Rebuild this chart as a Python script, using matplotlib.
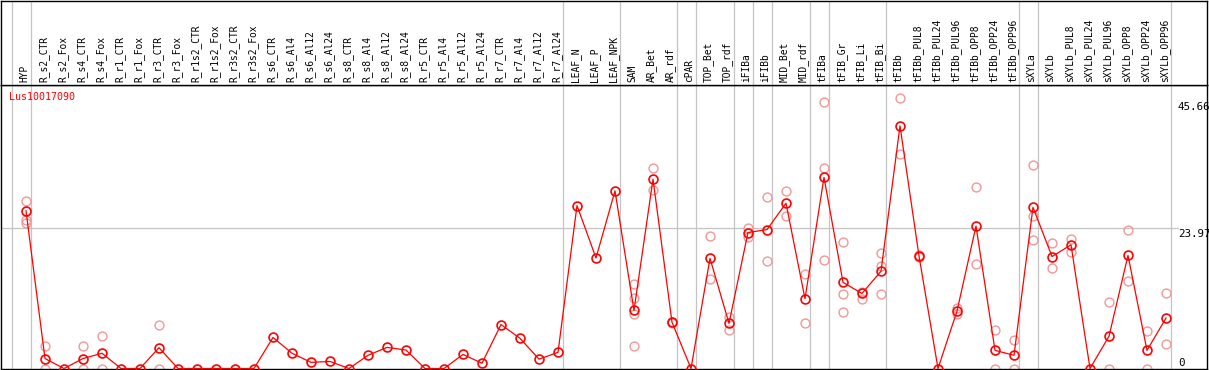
import matplotlib
matplotlib.use("Agg")
import matplotlib.pyplot as plt
import matplotlib.transforms as mtransforms

categories = ["HYP", "R_s2_CTR", "R_s2_Fox", "R_s4_CTR", "R_s4_Fox", "R_r1_CTR", "R_r1_Fox",
              "R_r3_CTR", "R_r3_Fox", "R_r1s2_CTR", "R_r1s2_Fox", "R_r3s2_CTR", "R_r3s2_Fox",
              "R_s6_CTR", "R_s6_Al4", "R_s6_Al12", "R_s6_Al24", "R_s8_CTR", "R_s8_Al4",
              "R_s8_Al12", "R_s8_Al24", "R_r5_CTR", "R_r5_Al4", "R_r5_Al12", "R_r5_Al24",
              "R_r7_CTR", "R_r7_Al4", "R_r7_Al12", "R_r7_Al24", "LEAF_N", "LEAF_P", "LEAF_NPK",
              "SAM", "AR_Bet", "AR_rdf", "cPAR", "TOP_Bet", "TOP_rdf", "iFIBa", "iFIBb",
              "MID_Bet", "MID_rdf", "tFIBa", "tFIB_Gr", "tFIB_Li", "tFIB_Bi", "tFIBb",
              "tFIBb_PUL8", "tFIBb_PUL24", "tFIBb_PUL96", "tFIBb_OPP8", "tFIBb_OPP24",
              "tFIBb_OPP96", "sXYLa", "sXYLb", "sXYLb_PUL8", "sXYLb_PUL24", "sXYLb_PUL96",
              "sXYLb_OPP8", "sXYLb_OPP24", "sXYLb_OPP96"]

means = [26.9, 1.7, 0.0, 1.7, 2.6, 0.0, 0.0, 3.55, 0.0, 0.0, 0.0, 0.0, 0.0,
         5.3, 2.6, 1.05, 1.2, 0.0, 2.25, 3.6, 3.15, 0.0, 0.0, 2.4, 0.9,
         7.5, 5.15, 1.6, 2.75, 27.8, 18.85, 30.3,
         9.9, 32.3, 7.9, 0.0, 18.8, 7.7, 23.2, 23.7,
         28.2, 11.9, 32.6, 14.7, 12.8, 16.6, 41.4,
         19.2, 0.0, 9.8, 24.3, 3.1, 2.25,
         27.5, 19.1, 21.1, 0.0, 5.5, 19.3, 3.1, 8.6]

replicates = [[28.6, 25.3, 24.9], [3.8, 0.0], [], [3.8, 0.0], [5.5, 0.0], [], [],
              [7.4, 0.0], [], [], [], [], [],
              [], [], [], [], [], [], [], [], [], [], [], [],
              [], [], [], [], [], [], [],
              [14.4, 12.0, 9.3, 3.8], [34.2, 30.4], [8.0, 7.8], [], [22.6, 15.2], [8.8, 6.5],
              [23.9, 22.5], [29.2, 18.3],
              [30.2, 26.1], [16.1, 7.7], [45.4, 34.2, 18.5], [21.6, 12.7, 9.6], [13.1, 11.9],
              [19.65, 17.5, 12.7], [46.1, 36.6],
              [19.4, 19.0], [], [10.3, 9.25], [30.9, 17.8], [6.6, 0.0], [4.9, 0.0],
              [34.7, 26.0, 21.9], [21.4, 17.1], [22.1, 19.9], [], [11.3, 0.0],
              [23.7, 15.0], [6.4, 0.0], [12.8, 4.1]]

group_ends = [-1, 0, 28, 31, 34, 35, 37, 38, 39, 41, 42, 45, 52, 53, 60]
gene = "Lus10017090"
y_marks = [45.66, 23.97, 0]
y_mark_labels = ["45.66", "23.97", "0"]

W, H = 1209, 370
fig = plt.figure(figsize=(W / 100, H / 100), dpi=100)
mono = "DejaVu Sans Mono"

# pixel geometry helpers
px_per_cat = 19.0
x0_px = 26.0
def px2x(p):
    return (p - x0_px) / px_per_cat

zero_px = 368.5
px_per_unit = (368.5 - 228.0) / 23.97
def py2v(p):
    return (zero_px - p) / px_per_unit

ax_left, ax_right = 1, 1207
ax_top, ax_bottom = 85, 369
ax = fig.add_axes([ax_left / W, (H - ax_bottom) / H, (ax_right - ax_left) / W, (ax_bottom - ax_top) / H])
hx = fig.add_axes([ax_left / W, (H - ax_top) / H, (ax_right - ax_left) / W, (ax_top - 0.5) / H], sharex=ax)

ax.set_xlim(px2x(ax_left), px2x(ax_right))
ax.set_ylim(py2v(ax_bottom), py2v(ax_top))
hx.set_ylim(0, 1)

for a in (ax, hx):
    a.set_xticks([])
    a.set_yticks([])
    for s in a.spines.values():
        s.set_color("black")
        s.set_linewidth(1.0)

# separators
for g in group_ends:
    ax.axvline(g + 0.25, color="#c4c4c4", lw=0.9, zorder=0)
    hx.axvline(g + 0.25, color="#c4c4c4", lw=0.9, zorder=0)

# horizontal gridline
ax.plot([px2x(ax_left), px2x(1178)], [23.97, 23.97], color="#c4c4c4", lw=0.9, zorder=0)

xs = list(range(len(categories)))

# replicates
rx, ry = [], []
for i, reps in enumerate(replicates):
    for v in reps:
        rx.append(i)
        ry.append(v)
ax.plot(rx, ry, ls="none", marker="o", ms=6.4, mfc="none", mec="#f09898", mew=1.0, zorder=2)

# mean line
ax.plot(xs, means, color="red", lw=0.9, zorder=3)
ax.plot(xs, means, ls="none", marker="o", ms=6.4, mfc="none", mec="red", mew=1.2, zorder=4)

# header labels
tr = mtransforms.blended_transform_factory(hx.transData, hx.transAxes)
for i, c in enumerate(categories):
    hx.text(i - 0.08, 3 / 85, c, rotation=90, ha="center", va="bottom",
            fontsize=6.9, family=mono, transform=tr)

# gene label
ax.text((9 - ax_left) / (ax_right - ax_left), (ax_bottom - 92) / (ax_bottom - ax_top), gene,
        color="red", fontsize=7.2, family=mono, ha="left", va="top", transform=ax.transAxes)

# right value labels
for v, lab in zip(y_marks, y_mark_labels):
    if v == 0:
        ax.annotate(lab, (px2x(1178), v), xytext=(0, 1), textcoords="offset pixels",
                    ha="left", va="bottom", fontsize=7.8, family=mono)
    else:
        ax.annotate(lab, (px2x(1178), v), xytext=(0, -1), textcoords="offset pixels",
                    ha="left", va="top", fontsize=7.8, family=mono)

fig.savefig("out.png", dpi=100)
